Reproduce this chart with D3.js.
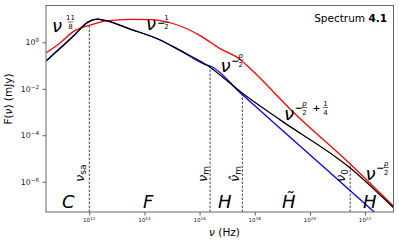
<!DOCTYPE html>
<html>
<head>
<meta charset="utf-8">
<title>Spectrum 4.1</title>
<script src="https://d3js.org/d3.v7.min.js"></script>
<style>
  body { margin: 0; background: #fff; }
  svg { font-family: 'DejaVu Sans', sans-serif; }
  .math { font-style: italic; }
</style>
</head>
<body>
<script>
// values, as log10 exponents
var blackLogNu = [10.44, 10.94, 11.48, 11.95, 12.28, 12.57, 13.48, 14.57, 15.29, 16.26, 17.54, 18.92, 21.46, 23.05];
var blackLogF  = [-0.80, -0.26, 0.34, 0.87, 1.00, 0.94, 0.57, 0.10, -0.35, -0.98, -2.18, -3.34, -5.41, -7.14];

var redLogNu = [10.44, 10.94, 11.42, 12.03, 12.63, 13.48, 14.20, 15.00, 16.02, 16.74, 17.47, 17.94, 19.39, 21.46, 23.03];
var redLogF  = [-0.45, -0.03, 0.46, 0.74, 0.92, 0.99, 0.98, 0.82, 0.29, -0.27, -0.74, -1.25, -3.00, -5.24, -7.06];

var blueLogNu = [10.44, 10.94, 11.48, 11.95, 12.28, 12.57, 13.48, 14.57, 15.29, 16.26, 16.38, 17.53, 18.67, 20.50, 22.30, 23.03];
var blueLogF  = [-0.80, -0.26, 0.34, 0.87, 1.00, 0.94, 0.57, 0.10, -0.35, -0.98, -1.02, -2.24, -3.44, -5.37, -7.27, -8.04];

// break frequencies and where their dashed lines stop
var breakNames = ["sa", "m", "mhat", "0"];
var breakLogNu = [12.00, 16.38, 17.55, 21.46];
var breakLogF  = [0.80, -1.02, -2.26, -5.30];

var xTickExp = [12, 14, 16, 18, 20, 22];
var yTickExp = [0, -2, -4, -6];

var width = 399, height = 245;
var pLeft = 46, pRight = 393.5, pTop = 5.5, pBottom = 212;

var svg = d3.select("body").append("svg")
    .attr("width", width)
    .attr("height", height);

var x = d3.scaleLog().domain([Math.pow(10, 10.43), Math.pow(10, 23.03)]).range([pLeft, pRight]);
var y = d3.scaleLog().domain([Math.pow(10, -7.304), Math.pow(10, 1.584)]).range([pBottom, pTop]);

svg.append("clipPath").attr("id", "plot")
  .append("rect")
    .attr("x", pLeft).attr("y", pTop)
    .attr("width", pRight - pLeft).attr("height", pBottom - pTop);

function pts(ln, lf) {
  return ln.map(function(d, i) { return [Math.pow(10, d), Math.pow(10, lf[i])]; });
}

var line = d3.line()
    .x(function(d) { return x(d[0]); })
    .y(function(d) { return y(d[1]); })
    .curve(d3.curveMonotoneX);

var plot = svg.append("g").attr("clip-path", "url(#plot)");

// dashed break lines
plot.selectAll("line.brk")
  .data(breakLogNu)
  .enter()
  .append("line")
    .attr("class", "brk")
    .attr("x1", function(d) { return x(Math.pow(10, d)); })
    .attr("x2", function(d) { return x(Math.pow(10, d)); })
    .attr("y1", pBottom)
    .attr("y2", function(d, i) { return y(Math.pow(10, breakLogF[i])); })
    .attr("stroke", "#333")
    .attr("stroke-width", 0.9)
    .attr("stroke-dasharray", "2.5,1.5");

plot.append("path").datum(pts(blueLogNu, blueLogF))
    .attr("d", line).attr("fill", "none").attr("stroke", "blue").attr("stroke-width", 1.3);
plot.append("path").datum(pts(redLogNu, redLogF))
    .attr("d", line).attr("fill", "none").attr("stroke", "red").attr("stroke-width", 1.3);
plot.append("path").datum(pts(blackLogNu, blackLogF))
    .attr("d", line).attr("fill", "none").attr("stroke", "black").attr("stroke-width", 1.3);

// axes
svg.append("g")
    .attr("transform", "translate(0," + pBottom + ")")
    .call(d3.axisBottom(x).tickValues(xTickExp.map(function(e) { return Math.pow(10, e); }))
      .tickSize(3.5).tickFormat(""));
svg.append("g")
    .attr("transform", "translate(" + pLeft + ",0)")
    .call(d3.axisLeft(y).tickValues(yTickExp.map(function(e) { return Math.pow(10, e); }))
      .tickSize(3.5).tickFormat(""));
svg.selectAll(".domain").remove();
svg.selectAll(".tick line").attr("stroke", "#333").attr("stroke-width", 0.8);

svg.append("rect")
    .attr("x", pLeft).attr("y", pTop)
    .attr("width", pRight - pLeft).attr("height", pBottom - pTop)
    .attr("fill", "none").attr("stroke", "#666").attr("stroke-width", 1);

// tick labels with superscripts
xTickExp.forEach(function(e) {
  var t = svg.append("text")
      .attr("x", x(Math.pow(10, e)))
      .attr("y", 222)
      .attr("text-anchor", "middle")
      .attr("font-size", 5.6)
      .attr("fill", "#222");
  t.append("tspan").text("10");
  t.append("tspan").attr("dy", -2.3).attr("font-size", 4.2).text(e);
});
yTickExp.forEach(function(e) {
  var t = svg.append("text")
      .attr("x", 39)
      .attr("y", y(Math.pow(10, e)) + 3)
      .attr("text-anchor", "end")
      .attr("font-size", 7.8)
      .attr("fill", "#222");
  t.append("tspan").text("10");
  t.append("tspan").attr("dy", -3.2).attr("font-size", 5.6).text(e === 0 ? "0" : "\u2212" + (-e));
});

// axis labels
var xl = svg.append("text").attr("x", 224.5).attr("y", 236)
    .attr("text-anchor", "middle").attr("font-size", 10.5);
xl.append("tspan").attr("class", "math").text("\u03bd");
xl.append("tspan").text(" (Hz)");

var yl = svg.append("text")
    .attr("transform", "translate(12,99) rotate(-90)")
    .attr("text-anchor", "middle").attr("font-size", 10.5);
yl.append("tspan").text("F(");
yl.append("tspan").attr("class", "math").text("\u03bd");
yl.append("tspan").text(") (mJy)");

// title text
var tt = svg.append("text").attr("x", 387).attr("y", 22.3)
    .attr("text-anchor", "end").attr("font-size", 10.5);
tt.append("tspan").text("Spectrum ");
tt.append("tspan").attr("font-weight", "bold").text("4.1");

// power-law labels
function nu(xx, yy) {
  svg.append("text").attr("class", "math").attr("x", xx).attr("y", yy)
      .attr("font-size", 18).text("\u03bd");
}
function frac(cx, barY, num, den, italicNum) {
  svg.append("text").attr("x", cx).attr("y", barY - 1.6)
      .attr("text-anchor", "middle").attr("font-size", 7)
      .attr("font-style", italicNum ? "italic" : "normal").text(num);
  svg.append("line").attr("x1", cx - 2.6).attr("x2", cx + 2.6)
      .attr("y1", barY).attr("y2", barY).attr("stroke", "#000").attr("stroke-width", 0.6);
  svg.append("text").attr("x", cx).attr("y", barY + 7.2)
      .attr("text-anchor", "middle").attr("font-size", 7).text(den);
}
function sym(xx, barY, s) {
  svg.append("text").attr("x", xx).attr("y", barY)
      .attr("dominant-baseline", "central")
      .attr("font-size", 9.5).attr("font-weight", "bold").text(s);
}

nu(52, 32);
frac(70.5, 22, "11", "8", false);

nu(146, 30);
sym(157.3, 22.9, "\u2212");
frac(166.5, 22, "1", "2", false);

nu(220.5, 72);
sym(231.3, 60.2, "\u2212");
frac(240.8, 59.8, "p", "2", true);

nu(284, 120);
sym(294.7, 107.9, "\u2212");
frac(304.5, 107.5, "p", "2", true);
sym(312.5, 107.9, "+");
frac(325.5, 107.5, "1", "4", false);

nu(365.5, 180);
sym(376.2, 167.9, "\u2212");
frac(386.2, 167.5, "p", "2", true);

// regime letters
var regions = [["C", 62], ["F", 143], ["H", 218], ["H\u0303", 282], ["H", 363]];
regions.forEach(function(r) {
  svg.append("text").attr("class", "math").attr("x", r[1]).attr("y", 207.5)
      .attr("font-size", 18).text(r[0]);
});

// rotated break labels
var subs = ["sa", "m", "m", "0"];
var baseX = [83.5, 206.5, 238.5, 345];
breakLogNu.forEach(function(d, i) {
  var t = svg.append("text")
      .attr("transform", "translate(" + baseX[i] + ",182) rotate(-90)")
      .attr("font-size", 13);
  t.append("tspan").attr("class", "math").text(breakNames[i] === "mhat" ? "\u03bd\u0302" : "\u03bd");
  t.append("tspan").attr("font-size", 9).attr("dy", 2.6).text(subs[i]);
});
</script>
</body>
</html>
